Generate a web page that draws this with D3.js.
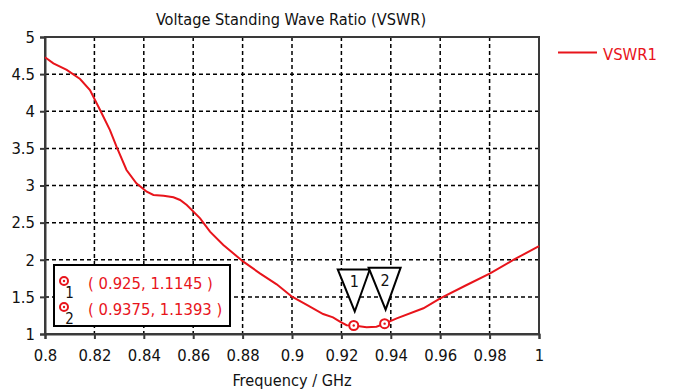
<!DOCTYPE html>
<html><head><meta charset="utf-8">
<script src="https://cdn.jsdelivr.net/npm/d3@7"></script>
<style>
html,body{margin:0;padding:0;background:#fff;}
svg text{font-family:"DejaVu Sans Condensed","DejaVu Sans",sans-serif;font-stretch:condensed;}
</style></head>
<body><svg id="c" width="681" height="390"></svg>
<script>
const freq = [0.8,0.8034,0.8088,0.8142,0.8182,0.8223,0.8263,0.829,0.833,0.837,0.8412,0.8439,0.848,0.852,0.8547,0.8574,0.8628,0.8668,0.8722,0.8762,0.8803,0.887,0.8938,0.9,0.906,0.9126,0.9166,0.9194,0.9221,0.925,0.9302,0.9342,0.9375,0.9424,0.9532,0.96,0.9707,0.9802,0.9896,1.0];
const vswr = [4.727,4.646,4.556,4.434,4.286,4.017,3.747,3.52,3.209,3.03,2.917,2.872,2.863,2.841,2.805,2.737,2.558,2.378,2.199,2.087,1.974,1.817,1.669,1.502,1.391,1.269,1.225,1.166,1.118,1.1145,1.09,1.098,1.1393,1.211,1.346,1.481,1.66,1.817,1.997,2.185];
const xTicks = [0.8,0.82,0.84,0.86,0.88,0.9,0.92,0.94,0.96,0.98,1];
const yTicks = [1,1.5,2,2.5,3,3.5,4,4.5,5];
const markerIds = ["1","2"];
const markerX = [0.925,0.9375];
const markerY = [1.1145,1.1393];
const markerText = ["( 0.925, 1.1145 )","( 0.9375, 1.1393 )"];
const seriesName = "VSWR1";
const title = "Voltage Standing Wave Ratio (VSWR)";
const xTitle = "Frequency / GHz";

const red = "#e8141b";
const svg = d3.select("#c");
const x = d3.scaleLinear().domain([0.8,1]).range([45,539]);
const y = d3.scaleLinear().domain([1,5]).range([334,37]);

// grid
const grid = svg.append("g").attr("stroke","#000").attr("stroke-width",1.5).attr("stroke-dasharray","4,3");
grid.selectAll(".gx").data(xTicks.slice(1,-1)).enter().append("line")
  .attr("x1",d=>x(d)).attr("x2",d=>x(d)).attr("y1",y(5)).attr("y2",y(1));
grid.selectAll(".gy").data(yTicks.slice(1,-1)).enter().append("line")
  .attr("y1",d=>y(d)).attr("y2",d=>y(d)).attr("x1",x(0.8)).attr("x2",x(1));

// frame
svg.append("rect").attr("x",x(0.8)).attr("y",y(5)).attr("width",x(1)-x(0.8)).attr("height",y(1)-y(5))
  .attr("fill","none").attr("stroke","#3a3a3a").attr("stroke-width",2);

// axes
const xa = svg.append("g").attr("transform",`translate(0,${y(1)})`)
  .call(d3.axisBottom(x).tickValues(xTicks).tickFormat(d=>String(+d.toFixed(2))).tickSize(5).tickPadding(10));
const ya = svg.append("g").attr("transform",`translate(${x(0.8)},0)`)
  .call(d3.axisLeft(y).tickValues(yTicks).tickFormat(d=>String(d)).tickSize(5).tickPadding(5));
[xa,ya].forEach(a=>{
  a.select(".domain").attr("stroke","#3a3a3a").attr("stroke-width",2);
  a.selectAll(".tick line").attr("stroke","#3a3a3a").attr("stroke-width",2);
  a.selectAll(".tick text").attr("fill","#111").style("font-size","16.5px");
});

// line
svg.append("path").datum(freq.map((f,i)=>[f,vswr[i]]))
  .attr("fill","none").attr("stroke",red).attr("stroke-width",2)
  .attr("d",d3.line().x(d=>x(d[0])).y(d=>y(d[1])));

// markers on curve
markerX.forEach((mx,i)=>{
  const px=x(mx), py=y(markerY[i]);
  svg.append("circle").attr("cx",px).attr("cy",py).attr("r",4.5).attr("fill","#fff").attr("stroke",red).attr("stroke-width",2);
  svg.append("circle").attr("cx",px).attr("cy",py).attr("r",1.2).attr("fill",red);
  svg.append("path").attr("d",`M${px-16},${py-56}L${px+16},${py-56}L${px+1},${py-14}Z`)
    .attr("fill","#fff").attr("stroke","#000").attr("stroke-width",2).attr("stroke-linejoin","miter");
  svg.append("text").attr("x",px+0.5).attr("y",py-38).attr("text-anchor","middle")
    .style("font-size","16px").attr("fill","#111").text(markerIds[i]);
});

// marker table
svg.append("rect").attr("x",54).attr("y",265).attr("width",176).attr("height",61)
  .attr("fill","#fff").attr("stroke","#000").attr("stroke-width",2);
markerText.forEach((t,i)=>{
  const cy = 281 + i*26;
  svg.append("circle").attr("cx",64).attr("cy",cy).attr("r",4).attr("fill","#fff").attr("stroke",red).attr("stroke-width",2);
  svg.append("circle").attr("cx",64).attr("cy",cy).attr("r",1.2).attr("fill",red);
  svg.append("text").attr("x",69.5).attr("y",cy+17).attr("text-anchor","middle").style("font-size","15px").attr("fill","#111").text(markerIds[i]);
  svg.append("text").attr("x",88).attr("y",cy+7.5).style("font-size","16.5px").attr("fill",red).text(t);
});

// title
svg.append("text").attr("x",291).attr("y",25).attr("text-anchor","middle").style("font-size","16.2px").attr("fill","#111").text(title);
svg.append("text").attr("x",292).attr("y",386).attr("text-anchor","middle").style("font-size","16.2px").attr("fill","#111").text(xTitle);

// legend
svg.append("line").attr("x1",558).attr("x2",597).attr("y1",52.5).attr("y2",52.5).attr("stroke",red).attr("stroke-width",2);
svg.append("text").attr("x",603).attr("y",59.5).style("font-size","16.5px").attr("fill",red).text(seriesName);
</script></body></html>
